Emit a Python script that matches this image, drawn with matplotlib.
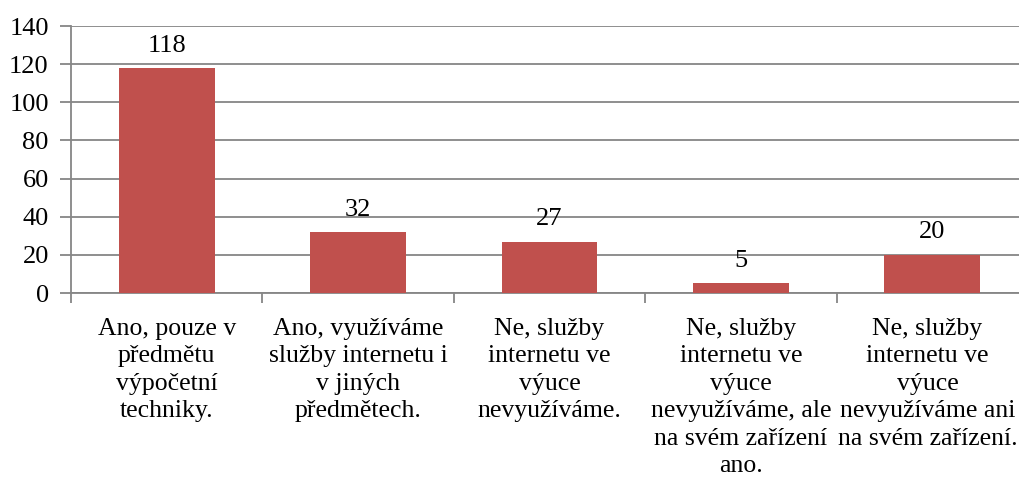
import matplotlib.pyplot as plt
import numpy as np

categories = [
    "Ano, pouze v\npředmětu\nvýpočetní\ntechniky.",
    "Ano, využíváme\nslužby internetu i\nv jiných\npředmětech.",
    "Ne, služby\ninternetu ve\nvýuce\nnevyužíváme.",
    "Ne, služby\ninternetu ve\nvýuce\nnevyužíváme, ale\nna svém zařízení\nano.",
    "Ne, služby\ninternetu ve\nvýuce\nnevyužíváme ani\nna svém zařízení.",
]
values = [118, 32, 27, 5, 20]
yticks = [0, 20, 40, 60, 80, 100, 120, 140]

bar_color = "#C0504D"
grid_color = "#868686"
fs = 19
xfs = 18.5
xpad = 18

plt.rcParams["font.family"] = ["Liberation Serif", "DejaVu Serif"]

fig = plt.figure(figsize=(10.19, 4.86), dpi=100)
W, H = 1019, 486
ax = fig.add_axes([71 / W, 1 - 293 / H, (1028 - 71) / W, (293 - 26) / H])

x = np.arange(len(values))
bars = ax.bar(x, values, width=0.5, color=bar_color, zorder=3)

for b, v in zip(bars, values):
    ax.text(b.get_x() + b.get_width() / 2, v + 6, str(v),
            ha="center", va="bottom", fontsize=fs, color="black")

ax.set_xlim(-0.5, len(values) - 0.5)
ax.set_ylim(0, 140)
ax.set_yticks(yticks)
ax.set_yticklabels([str(t) for t in yticks], fontsize=fs)
ax.yaxis.grid(True, color=grid_color, linewidth=1.3, zorder=0)

# last label is drawn by hand a bit left of its slot so it fits in the figure
ax.set_xticks(x)
ax.set_xticklabels(categories[:-1] + [""], fontsize=xfs, linespacing=1.32)
ax.annotate(categories[-1], xy=(x[-1] - 0.025, 0), xycoords=("data", "axes fraction"),
            xytext=(0, -xpad), textcoords="offset points",
            ha="center", va="top", fontsize=xfs, linespacing=1.32,
            annotation_clip=False)

ax.set_xticks(np.arange(len(values) + 1) - 0.5, minor=True)
ax.tick_params(axis="x", which="major", length=0, pad=xpad)
ax.tick_params(axis="x", which="minor", length=7, width=1.3, color=grid_color)
ax.tick_params(axis="y", length=8, width=1.3, color=grid_color, pad=8)

for side in ["top", "right"]:
    ax.spines[side].set_visible(False)
for side in ["left", "bottom"]:
    ax.spines[side].set_color(grid_color)
    ax.spines[side].set_linewidth(1.3)

fig.savefig("out.png", dpi=100)
